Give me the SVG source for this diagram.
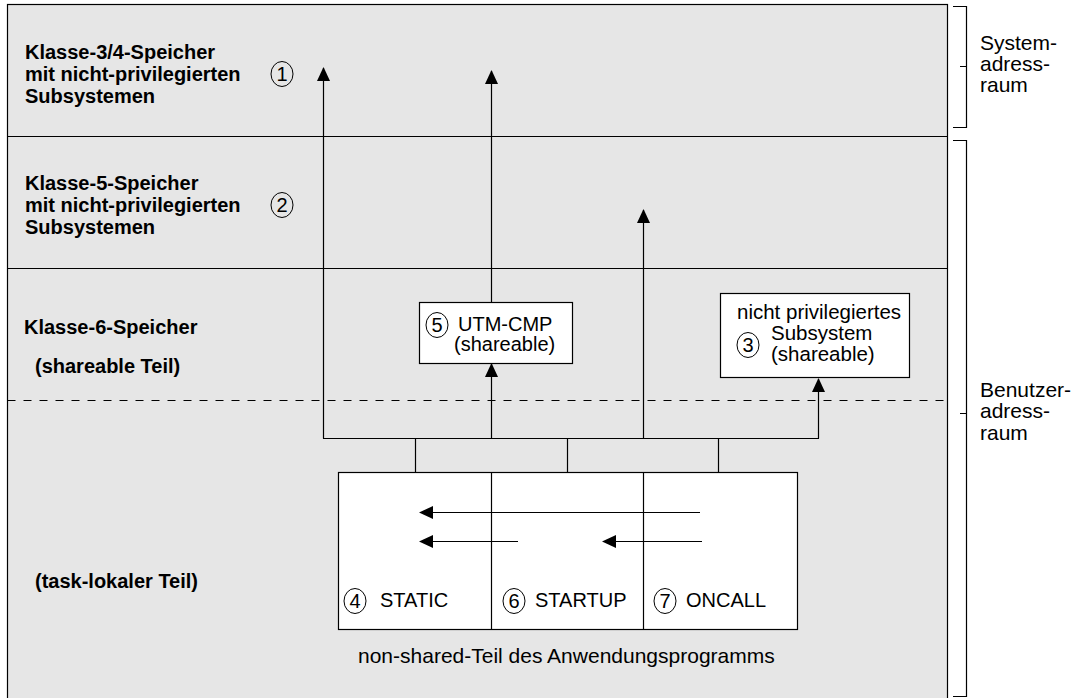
<svg xmlns="http://www.w3.org/2000/svg" width="1082" height="698" viewBox="0 0 1082 698">
<style>
.b{font-family:"Liberation Sans",Arial,sans-serif;font-weight:bold;font-size:20px;fill:#000}
.t{font-family:"Liberation Sans",Arial,sans-serif;font-size:20px;fill:#000}
.s{font-family:"Liberation Sans",Arial,sans-serif;font-size:20.5px;fill:#000}
.r{font-family:"Liberation Sans",Arial,sans-serif;font-size:21px;fill:#000}
.ln{stroke:#000;stroke-width:1.2;fill:none}
.box{fill:#fff;stroke:#000;stroke-width:1.2}
.num{fill:none;stroke:#000;stroke-width:1}
</style>
<defs>
<marker id="ah" viewBox="0 0 14 13" refX="13" refY="6.5" markerWidth="14" markerHeight="13" markerUnits="userSpaceOnUse" orient="auto">
<path d="M0,0 L14,6.5 L0,13 Z" fill="#000"/>
</marker>
</defs>
<rect width="1082" height="698" fill="#fff"/>
<g id="areas">
<rect x="7.5" y="4.5" width="940" height="700" fill="#e6e6e6" stroke="#000" stroke-width="1.2"/>
<line class="ln" x1="7.5" y1="136.5" x2="947.5" y2="136.5"/>
<line class="ln" x1="7.5" y1="268.5" x2="947.5" y2="268.5"/>
<line class="ln" x1="7.5" y1="400.5" x2="947.5" y2="400.5" stroke-dasharray="8 8"/>
</g>
<g id="klasse34">
<text class="b" x="25" y="59">Klasse-3/4-Speicher</text>
<text class="b" x="25" y="81">mit nicht-privilegierten</text>
<text class="b" x="25" y="103">Subsystemen</text>
<ellipse class="num" cx="282" cy="74" rx="11" ry="12.5"/>
<text class="t" x="282" y="81" text-anchor="middle">1</text>
</g>
<g id="klasse5">
<text class="b" x="25" y="190">Klasse-5-Speicher</text>
<text class="b" x="25" y="212">mit nicht-privilegierten</text>
<text class="b" x="25" y="234">Subsystemen</text>
<ellipse class="num" cx="282" cy="205" rx="11" ry="12.5"/>
<text class="t" x="282" y="212" text-anchor="middle">2</text>
</g>
<g id="klasse6">
<text class="b" x="24" y="334">Klasse-6-Speicher</text>
<text class="b" x="35" y="373">(shareable Teil)</text>
</g>
<g id="tasklokal">
<text class="b" x="35" y="588">(task-lokaler Teil)</text>
</g>
<g id="connectors">
<line class="ln" x1="323.5" y1="438.5" x2="323.5" y2="68" marker-end="url(#ah)"/>
<line class="ln" x1="491.5" y1="302" x2="491.5" y2="71" marker-end="url(#ah)"/>
<line class="ln" x1="491.5" y1="438.5" x2="491.5" y2="364" marker-end="url(#ah)"/>
<line class="ln" x1="643.5" y1="438.5" x2="643.5" y2="210" marker-end="url(#ah)"/>
<line class="ln" x1="818.5" y1="438.5" x2="818.5" y2="379" marker-end="url(#ah)"/>
<line class="ln" x1="323" y1="438.5" x2="819" y2="438.5"/>
<line class="ln" x1="415.5" y1="438.5" x2="415.5" y2="472"/>
<line class="ln" x1="567.5" y1="438.5" x2="567.5" y2="472"/>
<line class="ln" x1="718.5" y1="438.5" x2="718.5" y2="472"/>
</g>
<g id="utm">
<rect class="box" x="419.5" y="302.5" width="153" height="61"/>
<ellipse class="num" cx="437" cy="325" rx="11" ry="12.5"/>
<text class="t" x="437" y="332" text-anchor="middle">5</text>
<text class="t" x="458" y="331">UTM-CMP</text>
<text class="t" x="454" y="351">(shareable)</text>
</g>
<g id="subsystem">
<rect class="box" x="720.5" y="293.5" width="189" height="84"/>
<text class="s" x="737" y="319">nicht privilegiertes</text>
<text class="s" x="771" y="340">Subsystem</text>
<text class="s" x="771" y="361">(shareable)</text>
<ellipse class="num" cx="748" cy="345" rx="11" ry="12.5"/>
<text class="t" x="748" y="352" text-anchor="middle">3</text>
</g>
<g id="programm">
<rect class="box" x="338.5" y="472.5" width="459" height="157"/>
<line class="ln" x1="491.5" y1="472.5" x2="491.5" y2="629.5"/>
<line class="ln" x1="643.5" y1="472.5" x2="643.5" y2="629.5"/>
<line class="ln" x1="700" y1="512.5" x2="420" y2="512.5" marker-end="url(#ah)"/>
<line class="ln" x1="518" y1="541.5" x2="420" y2="541.5" marker-end="url(#ah)"/>
<line class="ln" x1="702" y1="541.5" x2="603" y2="541.5" marker-end="url(#ah)"/>
<ellipse class="num" cx="355" cy="601" rx="11" ry="12.5"/>
<text class="t" x="355" y="608" text-anchor="middle">4</text>
<text class="t" x="380" y="607">STATIC</text>
<ellipse class="num" cx="514" cy="601" rx="11" ry="12.5"/>
<text class="t" x="514" y="608" text-anchor="middle">6</text>
<text class="t" x="535" y="607">STARTUP</text>
<ellipse class="num" cx="665" cy="601" rx="11" ry="12.5"/>
<text class="t" x="665" y="608" text-anchor="middle">7</text>
<text class="t" x="686" y="607">ONCALL</text>
<text class="r" x="358" y="663">non-shared-Teil des Anwendungsprogramms</text>
</g>
<g id="systemadressraum">
<path class="ln" d="M953,6.5 H966.5 V127.5 H953 M960,66.5 H966.5"/>
<text class="r" x="980" y="50">System-</text>
<text class="r" x="980" y="71">adress-</text>
<text class="r" x="980" y="92">raum</text>
</g>
<g id="benutzeradressraum">
<path class="ln" d="M953,140.5 H966.5 V696.5 H953 M960,413.5 H966.5"/>
<text class="r" x="980" y="397">Benutzer-</text>
<text class="r" x="980" y="418">adress-</text>
<text class="r" x="980" y="440">raum</text>
</g>
</svg>
